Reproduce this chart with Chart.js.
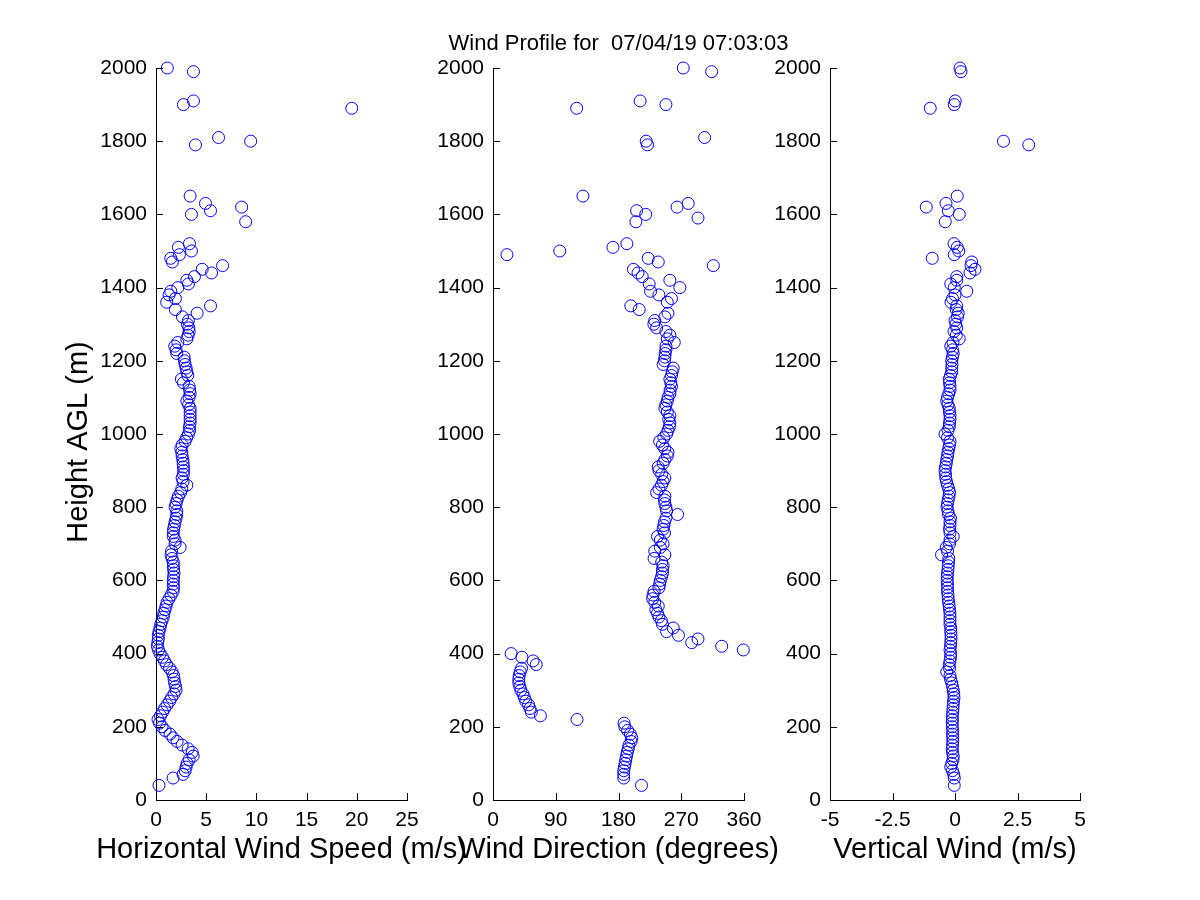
<!DOCTYPE html>
<html><head><meta charset="utf-8">
<script src="https://cdn.jsdelivr.net/npm/chart.js@4.4.1/dist/chart.umd.min.js"></script>
<style>
html,body{margin:0;padding:0;background:#fff;width:1200px;height:900px;overflow:hidden}
canvas{position:absolute;left:0;top:0;width:1200px;height:900px}
</style></head><body>
<canvas id="c1" width="1200" height="900"></canvas>
<canvas id="c2" width="1200" height="900"></canvas>
<canvas id="c3" width="1200" height="900"></canvas>
<script>
// Heights above ground level (m)
const heights = [40,
  60,70,80,90,100,
  110,120,130,140,150,160,170,180,190,200,
  210,220,230,240,250,260,270,280,290,300,
  310,320,330,340,350,360,370,380,390,400,
  410,420,430,440,450,460,470,480,490,500,
  510,520,530,540,550,560,570,580,590,600,
  610,620,630,640,650,660,670,680,690,700,
  710,720,730,740,750,760,770,780,790,800,
  810,820,830,840,850,860,870,880,890,900,
  910,920,930,940,950,960,970,980,990,1000,
  1010,1020,1030,1040,1050,1060,1070,1080,1090,1100,
  1110,1120,1130,1140,1150,1160,1170,1180,1190,1200,
  1210,1220,1230,1240,1250,1260,1270,1280,1290,1300,
  1310,1320,1330,1340,1350,1360,1370,1380,1390,1400,
  1410,1420,1430,1440,1450,1460,1470,1480,1490,1500,1510,1520,
  1580,1590,1600,1610,1620,1630,1650,1790,1800,1810,1890,1900,1910,1990,2000];

// Horizontal wind speed (m/s)
const windSpeed = [0.3,
  1.7,2.7,2.9,3.0,3.1,
  3.3,3.7,3.6,3.2,2.6,2.1,1.7,1.4,0.9,0.6,
  0.35,0.2,0.45,0.65,0.85,1.1,1.35,1.55,1.8,2.0,
  1.95,1.85,1.8,1.75,1.6,1.35,1.05,0.85,0.65,0.4,
  0.25,0.13,0.18,0.23,0.23,0.3,0.4,0.47,0.6,0.73,
  0.78,0.9,1.0,1.1,1.3,1.5,1.7,1.75,1.72,1.73,
  1.75,1.8,1.75,1.73,1.72,1.6,1.5,1.55,2.4,1.9,
  1.9,1.73,1.72,1.75,1.83,1.9,2.0,2.07,2.07,1.9,
  2.0,2.1,2.23,2.45,2.57,3.07,2.7,2.6,2.73,2.75,
  2.73,2.7,2.67,2.6,2.57,2.47,2.6,2.9,3.05,3.23,
  3.35,3.33,3.4,3.4,3.4,3.4,3.4,3.25,3.07,3.3,
  3.4,3.35,3.3,2.73,2.53,3.17,3.07,3.0,2.9,2.83,
  2.8,2.07,2.0,1.87,2.17,3.07,3.2,3.3,3.27,3.13,
  3.23,2.63,4.1,1.93,5.43,1.07,1.93,1.3,1.47,2.17,
  3.23,3.07,3.83,5.53,4.6,6.63,1.63,1.47,2.33,3.53,2.23,3.33,
  8.93,null,3.53,5.43,8.53,4.93,3.4,3.93,9.43,6.23,19.5,2.73,3.73,3.73,1.13];

// Wind direction (degrees)
const windDir = [213,
  187.5,187.5,187.5,188.5,189.5,
  190.5,191.5,192.5,194,195,198,199,197,193,189,
  188,120.5,68,55,53,51,47,45,43,40,
  38.5,37,37,37.5,39,41,62,57.5,41.5,26,
  359,328,285,294,266,249,258.5,243,241.5,238,
  236,233.5,237,232,229,229.5,231,238,239,240,
  241.7,243,243,244,242,231,246.5,232,240,244,
  240,236,246,244,245,246,248,264.7,249,248,
  246.5,246,246.5,234.6,238,241.7,244,246.5,242,238,
  237,244,246.5,250,251,246.5,243,239,245,249,
  251,253,253.7,252,253.7,250,246.5,248,250,251,
  253.7,254,256,255,253.7,256,257,258.5,244,246,
  246.5,247,248,248,260,250,253.7,248,234.6,230.7,
  232,246.5,251,209.7,197.7,250,256,238,226,268,
  224,253.7,214,208,201.5,316,237,222.6,20,95.7,172,192,
  205,294,219,206,264,280,129,221.6,219.7,303.5,120,248,211,313.6,272.9];

// Vertical wind (m/s)
const vertWind = [-0.03,
  -0.03,-0.05,-0.1,-0.17,-0.13,
  -0.08,-0.07,-0.1,-0.11,-0.1,-0.09,-0.09,-0.1,-0.09,-0.11,
  -0.11,-0.1,-0.11,-0.09,-0.08,-0.07,-0.06,-0.04,-0.05,-0.07,
  -0.1,-0.13,-0.18,-0.2,-0.33,-0.22,-0.23,-0.2,-0.18,-0.17,
  -0.2,-0.18,-0.17,-0.16,-0.16,-0.17,-0.17,-0.2,-0.2,-0.2,
  -0.2,-0.22,-0.23,-0.26,-0.27,-0.28,-0.3,-0.3,-0.3,-0.31,
  -0.31,-0.3,-0.28,-0.27,-0.26,-0.25,-0.54,-0.3,-0.35,-0.22,
  -0.2,-0.07,-0.2,-0.22,-0.2,-0.2,-0.18,-0.26,-0.28,-0.32,
  -0.3,-0.27,-0.24,-0.22,-0.25,-0.3,-0.34,-0.37,-0.38,-0.4,
  -0.38,-0.35,-0.33,-0.3,-0.28,-0.25,-0.22,-0.2,-0.3,-0.4,
  -0.28,-0.23,-0.22,-0.2,-0.2,-0.22,-0.23,-0.28,-0.33,-0.3,
  -0.25,-0.2,-0.2,-0.22,-0.23,-0.18,-0.13,-0.13,-0.12,-0.13,
  -0.1,-0.07,-0.1,-0.17,-0.08,0.17,0.05,-0.04,0.07,0.03,
  0,0.1,0.13,0.05,0.07,-0.16,-0.1,0,0.47,-0.03,
  -0.17,0.07,0.07,0.6,0.8,0.64,0.67,-0.91,-0.03,0.15,0.09,-0.04,
  -0.39,null,0.17,-0.27,-1.15,-0.36,0.09,2.95,1.94,null,-0.99,-0.03,0.01,0.24,0.2];

// Tick values
const yTicks = [0,200,400,600,800,1000,1200,1400,1600,1800,2000];
const speedTicks = [0,5,10,15,20,25];
const dirTicks = [0,90,180,270,360];
const vertTicks = [-5,-2.5,0,2.5,5];

const titleText = 'Wind Profile for  07/04/19 07:03:03';
const yTitle = 'Height AGL (m)';
const xTitles = ['Horizontal Wind Speed (m/s)', 'Wind Direction (degrees)', 'Vertical Wind (m/s)'];

const FONT = "'Liberation Sans', Arial, Helvetica, sans-serif";

// Inward tick marks on the left and bottom axes
const inwardTicks = {
  id: 'inwardTicks',
  afterDraw(chart) {
    const {ctx, chartArea, scales} = chart;
    const len = 7;
    ctx.save();
    ctx.strokeStyle = '#000';
    ctx.lineWidth = 1;
    ctx.beginPath();
    scales.x.ticks.forEach(t => {
      const px = Math.round(scales.x.getPixelForValue(t.value)) + 0.5;
      ctx.moveTo(px, chartArea.bottom);
      ctx.lineTo(px, chartArea.bottom - len);
    });
    scales.y.ticks.forEach(t => {
      const py = Math.round(scales.y.getPixelForValue(t.value)) + 0.5;
      ctx.moveTo(chartArea.left, py);
      ctx.lineTo(chartArea.left + len, py);
    });
    ctx.stroke();
    ctx.restore();
  }
};

// Axis titles / figure title drawn without width compression (they overflow the panel, as in the original)
const freeTitles = {
  id: 'freeTitles',
  afterDraw(chart, args, opts) {
    const {ctx, chartArea} = chart;
    const cx = (chartArea.left + chartArea.right) / 2;
    ctx.save();
    ctx.fillStyle = '#000';
    ctx.textAlign = 'center';
    ctx.textBaseline = 'middle';
    if (opts.xTitle) {
      ctx.font = '29px ' + FONT;
      ctx.fillText(opts.xTitle, cx, chartArea.bottom + 49.5);
    }
    if (opts.top) {
      ctx.font = '22px ' + FONT;
      ctx.fillText(opts.top, cx, chartArea.top - 24);
    }
    if (opts.yTitle) {
      ctx.font = '29px ' + FONT;
      ctx.translate(chartArea.left - 77.5, (chartArea.top + chartArea.bottom) / 2 + 8);
      ctx.rotate(-Math.PI / 2);
      ctx.fillText(opts.yTitle, 0, 0);
    }
    ctx.restore();
  }
};

function makeChart(id, values, o) {
  const pts = [];
  heights.forEach((h, i) => { if (values[i] !== null) pts.push({x: values[i], y: h}); });
  return new Chart(document.getElementById(id), {
    type: 'scatter',
    data: { datasets: [{
      data: pts,
      pointStyle: 'circle',
      pointRadius: 6,
      pointHoverRadius: 6,
      pointBorderWidth: 1,
      pointBorderColor: '#0000ff',
      pointBackgroundColor: 'rgba(0,0,0,0)',
      borderColor: '#0000ff',
      backgroundColor: 'rgba(0,0,0,0)',
      clip: false
    }]},
    options: {
      responsive: false,
      animation: false,
      events: [],
      layout: { padding: { left: o.padLeft, right: o.padRight, top: 68, bottom: 34 } },
      plugins: {
        legend: { display: false },
        tooltip: { enabled: false },
        title: { display: false },
        freeTitles: { xTitle: o.xTitle, top: o.top || null, yTitle: o.yTitle || null }
      },
      scales: {
        x: {
          type: 'linear', position: 'bottom', min: o.xTicks[0], max: o.xTicks[o.xTicks.length - 1],
          afterBuildTicks: s => { s.ticks = o.xTicks.map(v => ({ value: v })); },
          afterFit: s => { s.height = 66; },
          ticks: { autoSkip: false, maxRotation: 0, minRotation: 0, padding: 8, color: '#000',
                   font: { family: FONT, size: 21 }, callback: v => String(v) },
          grid: { display: false, drawTicks: false },
          border: { display: true, color: '#000', width: 1 },
          title: { display: false }
        },
        y: {
          type: 'linear', position: 'left', min: 0, max: 2000,
          afterBuildTicks: s => { s.ticks = yTicks.map(v => ({ value: v })); },
          afterFit: s => { s.width = o.yWidth; },
          ticks: { autoSkip: false, padding: 9, color: '#000', font: { family: FONT, size: 21 }, callback: v => String(v) },
          grid: { display: false, drawTicks: false },
          border: { display: true, color: '#000', width: 1 },
          title: { display: false }
        }
      }
    },
    plugins: [inwardTicks, freeTitles]
  });
}

makeChart('c1', windSpeed, { padLeft: 61, yWidth: 95, padRight: 793,
  xTicks: speedTicks, xTitle: xTitles[0], yTitle: yTitle });
makeChart('c2', windDir, { padLeft: 433, yWidth: 60, padRight: 456,
  xTicks: dirTicks, xTitle: xTitles[1], top: titleText });
makeChart('c3', vertWind, { padLeft: 770, yWidth: 60, padRight: 120,
  xTicks: vertTicks, xTitle: xTitles[2] });
</script>
</body></html>
